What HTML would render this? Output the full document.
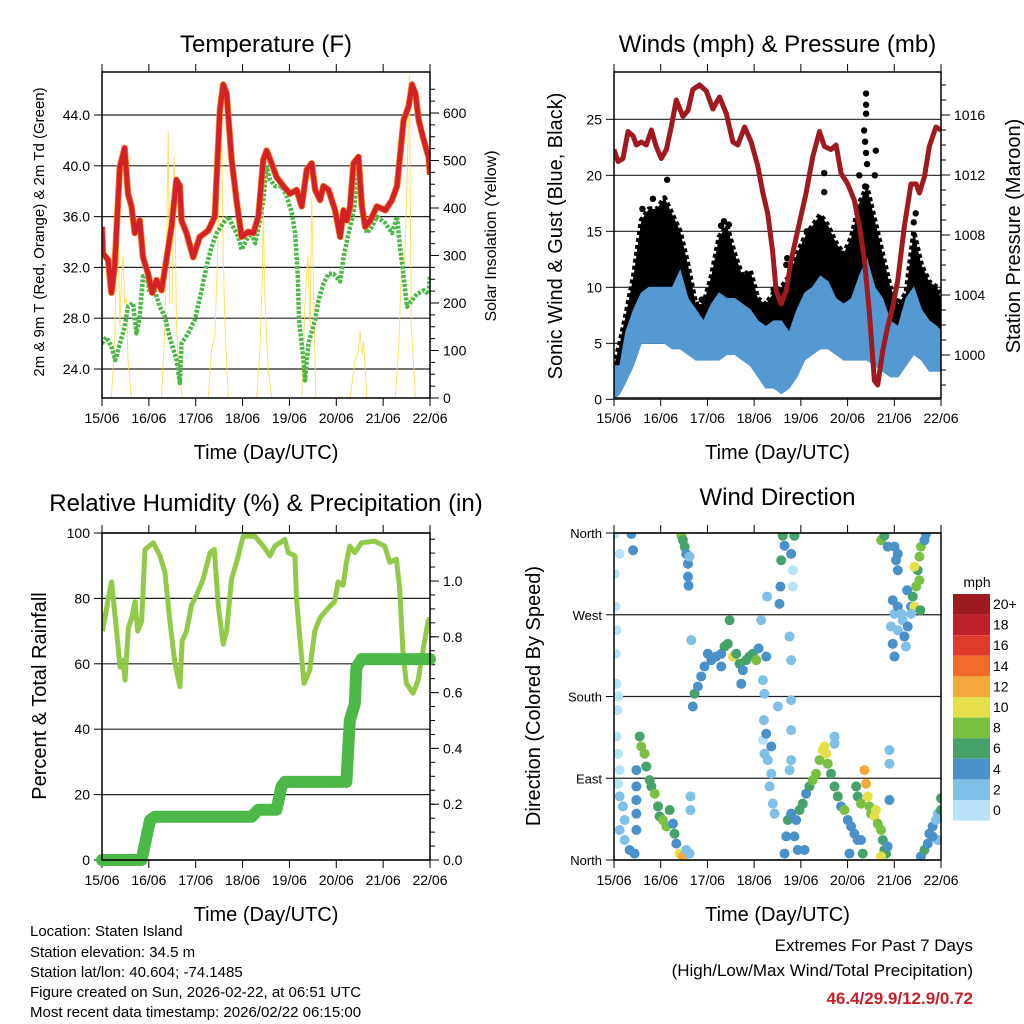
<!DOCTYPE html>
<html><head><meta charset="utf-8"><style>
body{margin:0;background:#fff}
svg{display:block;font-family:"Liberation Sans",Arial,sans-serif}
</style></head><body>
<svg id="root" width="1024" height="1024" viewBox="0 0 1024 1024">
<g id="g1"></g>
<g id="g2"></g>
<g id="g3"></g>
<g id="g4"></g>
<g font-size="15" fill="#000">
<text x="30" y="936">Location: Staten Island</text>
<text x="30" y="957">Station elevation: 34.5 m</text>
<text x="30" y="977">Station lat/lon: 40.604; -74.1485</text>
<text x="30" y="997">Figure created on Sun, 2026-02-22, at 06:51 UTC</text>
<text x="30" y="1017">Most recent data timestamp: 2026/02/22 06:15:00</text>
<text x="973" y="951" text-anchor="end" font-size="17">Extremes For Past 7 Days</text>
<text x="973" y="976" text-anchor="end" font-size="17">(High/Low/Max Wind/Total Precipitation)</text>
<text x="973" y="1004" text-anchor="end" font-size="17" font-weight="bold" fill="#c8202a">46.4/29.9/12.9/0.72</text>
</g>
</svg>
<script>
// ---------- DATA ----------
const dayLabels=["15/06","16/06","17/06","18/06","19/06","20/06","21/06","22/06"];
const tempHours=[0,0.5,3.1,4.8,6.5,9.1,11.6,13.3,15.1,16.8,19.3,21,23.6,25.7,27.9,30.5,33,35.6,38.1,39.9,40.7,43.3,46.7,50.1,54.4,57.8,60.4,62.1,63.8,66.4,68.9,71.5,74.9,77.5,80.1,82.6,84.3,86.1,89.5,92.9,96.3,99.7,102.3,104.9,107.4,109.2,111.7,113.4,116,119.4,122,123.7,125.4,127.1,128.8,131.4,133.1,134.8,137.4,140.8,145.1,148.5,151.1,152.8,154.5,157.1,158.8,160.5,162.2,164.8,167.3,168];
const tempF=[35.2,33.1,32.6,30.0,32.1,39.9,41.4,37.8,36.8,34.7,35.7,32.8,31.5,30.0,31.0,30.2,32.6,35.2,38.9,38.4,35.7,34.7,32.8,34.4,34.9,36.0,44.4,46.4,45.7,40.5,37.3,34.4,34.8,34.7,36.0,40.5,41.2,40.5,39.1,38.4,37.8,38.1,36.8,39.7,40.2,38.1,37.3,38.4,38.1,36.5,34.4,36.5,35.7,36.8,40.2,40.7,36.8,35.2,35.7,36.8,36.5,37.3,38.4,41.0,43.6,44.7,46.4,45.7,43.6,42.0,40.7,39.3];
const dewHours=[0,2.2,4.8,6.8,9.1,11.6,13.3,15.9,17.6,19.3,21,22.8,24.5,27,29.6,32.2,34.7,38.2,39.9,40.7,44.1,47.6,51,53.6,56.1,58.7,62.1,64.7,67.2,69.8,71.5,74.1,76.6,78.4,80.9,82.6,84.3,86.1,88.6,92,94.6,97.2,98.9,100.3,100.9,103.2,104,105.7,109.2,110.9,113.4,116,118.6,122,123.7,126.3,128.8,131.4,133.1,135.7,138.2,140.8,145.1,148.5,151.1,152.8,154.5,156.2,158.8,161.3,164.8,167.3,168];
const dewF=[26.0,26.5,25.8,24.7,26.0,27.3,28.9,29.2,26.8,28.1,31.3,31.3,30.0,30.2,28.9,28.1,26.5,24.7,22.9,26.0,26.8,27.9,30.2,32.1,33.6,34.7,35.5,36.0,35.2,34.4,33.4,34.2,34.7,33.9,35.7,37.3,39.9,38.9,38.4,38.4,37.6,36.3,34.7,31.3,27.9,24.7,23.1,26.0,27.9,29.4,30.7,31.5,31.5,30.9,32.8,34.7,36.3,39.7,36.3,34.7,35.2,36.0,35.5,34.7,36.0,33.4,31.3,28.9,29.4,29.9,30.2,29.9,31.3];
const solarHours=[0,4.8,6.5,7.4,8.2,9.1,9.9,10.8,11.6,12.5,13.3,15.1,30.5,32.2,33,33.9,34.7,35.9,37,38.2,39,41.1,54.4,56.1,57.8,59.2,60.4,61.2,62.1,63,64.7,79.2,80.9,82.1,82.6,83.5,84.3,85.2,86.9,102.3,104,105.4,106.6,107.4,108.3,109.5,127.1,129.7,131.4,132.2,133.1,134,135.7,150.2,151.9,153.6,155,156.2,157.4,158.4,159.1,160.5,168];
const solarW=[0,0,120,300,370,150,250,300,200,210,80,0,0,150,300,560,200,200,510,150,80,0,0,100,130,300,540,590,300,150,0,0,100,250,400,200,130,60,0,0,200,300,150,420,250,0,0,80,100,140,90,120,0,0,100,300,280,450,680,150,110,0,0];
const pressHours=[0,2.1,4.6,7.2,9.8,11.5,14,16.6,19.2,21.7,24.3,26.9,29.4,32,35.4,38,40.5,44,47.4,50.8,54.2,57.7,61.1,63.6,67.1,70.5,73.9,76.5,79,81.6,83.3,85.9,88.5,91,94.4,98.7,102.1,105.6,108.1,111.5,114.1,116.7,120.1,123.5,126.1,128.7,131.2,133.8,135.5,138.1,140.6,143.2,145.8,149.2,152.6,155.2,156.9,159.5,162,165.4,168];
const pressMb=[1013.7,1012.9,1013.1,1014.9,1014.6,1014,1014.2,1014,1015,1013.9,1013.1,1013.7,1015.2,1017,1015.9,1016.3,1017.7,1018,1017.6,1016.4,1017.2,1016.1,1014.2,1014,1015.2,1014.2,1012.6,1010.8,1009.4,1006.8,1004.3,1003.4,1004.3,1006.3,1008.3,1010.8,1013.2,1014.9,1013.9,1013.7,1014,1012.1,1011.4,1010.3,1008.6,1006.3,1002.8,998.3,998,1000.3,1001.9,1003.2,1005,1008.6,1011.4,1011.4,1010.8,1011.9,1013.9,1015.2,1015];
const windHours=[0,3,6,10,14,18,22,26,30,34,38,42,46,50,54,58,62,66,70,74,78,82,86,90,94,98,102,106,110,114,118,122,126,130,134,138,142,146,150,154,158,162,166,168];
const windLow=[0,0.5,1.5,3,5,5,5,5,4.5,4.5,4,3.5,3.5,3.5,3.5,4,4,3.5,3,2,1,1,0.5,1,2,3.5,4,4.5,4.5,4,3.5,3.5,3.5,3.5,3,2.5,2,2,3,4,3.5,2.5,2.5,2.5];
const windHigh=[3,3,6,8,9.5,10,10,10,10,11.5,9,8,7,8.5,9.5,9,9,8.5,8,7,6.5,7,7,6,8,9.5,10,11,10.5,9,8.5,9,11,12.5,10,9,7,6.5,9,10,8,7,6.5,6];
const gustHigh=[3,5,7.5,11,16,17,17,18,16.5,15,12,8.5,8.5,11,14.5,15.5,13,11,11.5,9,8.5,9.5,10,11,13,14.5,15.5,16.5,15.5,14,13,14.5,17.5,19,16,13,10,8.5,9.5,15,12,10.5,10,9];
const gustOutHours=[27.3,14.6,20,55,56.5,59,89,99,108,108,126,129.5,129.5,129.5,128.5,129,129.5,134.5,134,129,130,155,154,82,88.5,45];
const gustOutMph=[19.6,17,17.9,15.5,15.9,15.6,12.6,15,20.2,18.5,20,27.3,26.3,25.5,24,23,22,22.2,20,19,21,16.6,15.8,9.8,12,8.9];
const rhHours=[0.2,1.5,3.2,4.9,5.8,7.5,9.2,10.9,11.8,13.5,15.2,16.9,18.3,20.3,22,26.3,29.7,32.2,34.8,37.4,39.9,41.1,43.3,45.9,48.4,51.9,55.3,57.5,59.5,62.1,63.8,66.4,69.8,72.3,78.3,82.6,86,88.5,93.7,95.4,98.8,99.6,101.3,103.5,106.4,109,111.6,115.8,119.2,120.9,123.5,125.2,126.9,129.5,132.9,139.7,144.8,147.4,150.8,152.5,154.2,155.9,159.3,161.9,164.4,167,167.9];
const rhPct=[70,74,80,85,80,70,59,61,55,71,74,79,70,73,95,97,93,88,73,60,53,67,70,78,81,86,94,95,78,66,70,86,93,99,99,96,93,96,98,94,93,80,68,54,58,70,74,77,79,85,84,91,96,94,97,97.5,96,91,92,83,63,54,51,55,64,73,74];
const rainHours=[0,20.3,24.6,27.1,76.6,80,89.4,91.9,93.7,125.2,126.9,129.5,130.3,132.9,168];
const rainIn=[0,0,0.143,0.155,0.155,0.18,0.18,0.263,0.28,0.28,0.50,0.56,0.69,0.72,0.72];
const dirHours=[0.3,2.9,0.3,0.7,1.2,0.9,1.2,2.1,1.7,1.2,2.1,2.9,2.1,2.9,4.6,5.5,2.9,5.5,8,10.6,8.9,9.8,11.5,11.5,11.5,11.5,11.5,
13.2,14,15.7,16.6,18.3,19.2,20.9,22.6,23.4,25.1,26.9,28.6,30.3,31.1,32,33.7,35.4,37.1,38.8,39.3,39.3,
34.6,35.4,36.3,37.1,38,38,38.3,38.8,
40.5,41.4,43.1,44.8,46.5,48.2,50,52.5,55.1,56.8,58.5,59.4,61.1,62.8,64.5,66.2,67.9,69.6,71.3,73.1,74.3,65.4,55.1,39.7,
75.6,78.7,78.2,76.5,77.3,77,76.5,77.3,79,80.8,79.9,81.6,82.5,84.2,85,85.5,85.9,86.7,87.6,91,91.9,91.9,90.2,91,91,91,91,90.2,92.7,78.2,80.8,
87.6,88.5,89.3,91,92.7,93.6,95.3,97,98.7,100.4,102.1,103.8,105.6,107.3,109,108.1,109.8,111.5,113.3,115,116.7,118.4,120.1,121.8,123.5,125.2,121,113.3,113.3,97.9,94.4,
124.4,125.2,126.9,128.7,129.5,130.4,131.2,132.1,133.8,134.6,135.5,137.2,138.1,138.9,139.8,140.6,137.2,126.9,127.8,141.5,141.5,141.5,
137.2,138.9,140.6,144.1,145.8,144.9,145.8,143.2,144.1,145.8,147.5,142.3,143.2,144.1,145.8,148.3,149.2,150,150.9,152.6,153.5,155.2,156.9,156,154.3,156.9,157.7,159.5,160.3,154.3,150.6,157.4,152.6,
157.7,159.5,161.2,162,163.7,165.4,166.3,168,168,166.3,163.7];
const dirDeg=[359,337,315,279,253,227,194,180,165,136,117,99,84,70,59,44,33,22,11,7,359,341,99,81,66,51,33,
136,125,117,103,88,81,73,59,48,44,37,55,40,29,18,7,4,11,7,70,55,
357,352,345,337,326,312,302,334,
169,183,191,202,213,227,220,224,227,235,238,264,224,227,216,209,220,224,227,220,233,194,213,242,
264,290,224,198,183,154,132,117,110,95,81,62,51,169,282,301,330,357,346,337,301,319,246,220,176,143,110,99,357,139,125,
7,26,44,51,26,44,55,62,73,81,88,95,110,121,117,125,106,95,81,70,59,55,44,37,29,22,7,136,128,11,11,
81,70,62,99,84,70,59,51,48,55,40,33,22,11,7,15,4,22,7,121,106,66,
352,357,345,345,337,330,319,286,271,279,271,257,238,224,253,264,246,235,257,279,290,301,308,319,323,334,345,352,359,279,297,275,271,
4,11,18,29,37,44,51,55,68,22,26];
const dirSpeed=[0,0,0,1,1,0,1,0,1,0,1,0,1,2,3,3,2,3,4,5,5,4,4,4,5,5,4,
7,8,9,7,6,7,8,6,7,8,9,6,5,6,5,10,12,3,2,2,2,
8,7,6,5,4,4,4,2,
4,6,5,4,4,5,5,4,5,7,7,6,10,6,6,4,6,6,7,8,4,5,4,2,
2,2,4,2,2,2,1,2,2,3,2,3,3,3,4,4,6,6,5,5,1,1,2,2,2,2,2,2,6,5,4,
5,4,6,4,5,4,6,6,5,7,8,9,9,10,10,10,8,7,6,6,5,8,4,4,5,4,4,2,2,4,4,
7,7,8,13,12,10,9,8,10,10,9,8,7,6,6,5,10,5,6,2,2,4,
8,7,5,4,4,4,4,4,2,4,2,2,5,4,3,3,4,3,4,4,7,8,8,7,10,8,8,4,4,10,4,6,2,
4,6,4,4,4,2,2,6,6,3,4];
const cbLabels=["20+","18","16","14","12","10","8","6","4","2","0"];
const cbColors=["#9b1b1e","#c0202a","#e03a2a","#f26b2a","#f6a93b","#e5e04a","#7ac143","#45a36a","#4a90c9","#7fbfe8","#b8e2f7"];

// ---------- HELPERS ----------
const NS="http://www.w3.org/2000/svg";
function mk(parent,tag,attrs,txt){const e=document.createElementNS(NS,tag);for(const k in attrs)e.setAttribute(k,attrs[k]);if(txt!==undefined)e.textContent=txt;parent.appendChild(e);return e;}
function pathFrom(xs,ys){let d="";for(let i=0;i<xs.length;i++)d+=(i?"L":"M")+xs[i].toFixed(1)+","+ys[i].toFixed(1);return d;}
function xScale(P){return h=>P.x0+h/168*(P.x1-P.x0);}

function frame(g,P,title,xTitle){
  const t=mk(g,"text",{x:(P.x0+P.x1)/2,y:P.titleY,"text-anchor":"middle","font-size":24});t.textContent=title;
  
  
  const xt=mk(g,"text",{x:(P.x0+P.x1)/2,y:P.y1+61,"text-anchor":"middle","font-size":20},xTitle);
  
  
  const xs=xScale(P);
  dayLabels.forEach((lab,i)=>{
    const x=xs(i*24);
    mk(g,"line",{x1:x,x2:x,y1:P.y1,y2:P.y1+8,stroke:"#000","stroke-width":1});
    mk(g,"line",{x1:x,x2:x,y1:P.y0,y2:P.y0-8,stroke:"#000","stroke-width":1});
    const tl=mk(g,"text",{x:x,y:P.y1+25,"text-anchor":"middle","font-size":14},lab);
    
    
  });
}
function leftAxis(g,P,vals,labels,yf,fs,grid){
  vals.forEach((v,i)=>{const y=yf(v);
    if(grid)mk(g,"line",{x1:P.x0,x2:P.x1,y1:y,y2:y,stroke:"#222","stroke-width":1.2});
    mk(g,"line",{x1:P.x0-8,x2:P.x0,y1:y,y2:y,stroke:"#000"});
    const t=mk(g,"text",{x:P.x0-12,y:y+5,"text-anchor":"end","font-size":fs},labels[i]);
    
    
  });
}
function rightAxis(g,P,vals,labels,yf,fs,minor){
  minor.forEach(v=>{const y=yf(v);mk(g,"line",{x1:P.x1,x2:P.x1+5,y1:y,y2:y,stroke:"#000"});});
  vals.forEach((v,i)=>{const y=yf(v);
    mk(g,"line",{x1:P.x1,x2:P.x1+9,y1:y,y2:y,stroke:"#000"});
    const t=mk(g,"text",{x:P.x1+13,y:y+5,"font-size":fs},labels[i]);
    
    
  });
}
function vtitle(g,x,y,txt,fs,name){const t=mk(g,"text",{x:x,y:y,"text-anchor":"middle","font-size":fs,transform:`rotate(-90 ${x} ${y})`},txt);
  
  }
function border(g,P){const r=mk(g,"rect",{x:P.x0,y:P.y0,width:P.x1-P.x0,height:P.y1-P.y0,fill:"none",stroke:"#000","stroke-width":1.5});
  
  }
function clip(id,P){const root=document.getElementById("root");let defs=root.querySelector("defs")||mk(root,"defs",{});
  const c=mk(defs,"clipPath",{id:id});mk(c,"rect",{x:P.x0,y:P.y0,width:P.x1-P.x0,height:P.y1-P.y0});}
function range(a,b,s){const r=[];for(let v=a;v<=b+1e-9;v+=s)r.push(+v.toFixed(3));return r;}

// ---------- PANEL 1: Temperature ----------
(function(){
  const g=document.getElementById("g1");const P={x0:102,x1:430,y0:72,y1:398,titleY:52};
  const xs=xScale(P);const ty=v=>369-(v-24)*12.7;const sy=w=>398-w*0.475;
  clip("c1",P);frame(g,P,"Temperature (F)","Time (Day/UTC)");
  const tv=[24,28,32,36,40,44];leftAxis(g,P,tv,tv.map(v=>v.toFixed(1)),ty,14,true);
  rightAxis(g,P,[0,100,200,300,400,500,600],["0","100","200","300","400","500","600"],sy,14,range(0,650,25));
  const d=mk(g,"g",{"clip-path":"url(#c1)"});
  const s=mk(d,"path",{d:pathFrom(solarHours.map(xs),solarW.map(sy)),fill:"none",stroke:"#ffd83a","stroke-width":1,opacity:0.8});
  
  
  const dw=mk(d,"path",{d:pathFrom(dewHours.map(xs),dewF.map(ty)),fill:"none",stroke:"#4cb848","stroke-width":4.5,"stroke-dasharray":"3 1.5","stroke-linejoin":"round"});
  
  
  const o=mk(d,"path",{d:pathFrom(tempHours.map(xs),tempF.map(ty)),fill:"none",stroke:"#f5821f","stroke-width":6.5,"stroke-linejoin":"round"});
  
  
  const r=mk(d,"path",{d:pathFrom(tempHours.map(xs),tempF.map(ty)),fill:"none",stroke:"#d42027","stroke-width":5,"stroke-linejoin":"round"});
  
  
  border(g,P);
  vtitle(g,44,232,"2m & 9m T (Red, Orange) & 2m Td (Green)",15,"y-axis-title");
  vtitle(g,496,236,"Solar Insolation (Yellow)",16,"right-axis-title");
})();

// ---------- PANEL 2: Winds ----------
(function(){
  const g=document.getElementById("g2");const P={x0:614,x1:941,y0:72,y1:398,titleY:52};
  const xs=xScale(P);const wy=m=>399.3-m*11.2;const py=mb=>115+(1016-mb)*15;
  clip("c2",P);frame(g,P,"Winds (mph) & Pressure (mb)","Time (Day/UTC)");
  const wv=[0,5,10,15,20,25];leftAxis(g,P,wv,wv.map(String),wy,14,true);
  rightAxis(g,P,[1000,1004,1008,1012,1016],["1000","1004","1008","1012","1016"],py,14,range(998,1018,1));
  const d=mk(g,"g",{"clip-path":"url(#c2)"});
  const xsH=windHours.map(xs);
  const gp=pathFrom(xsH.concat(xsH.slice().reverse()),windHigh.map(wy).concat(gustHigh.map(wy).reverse()))+"Z";
  const gb=mk(d,"path",{d:gp,fill:"#000",stroke:"#000","stroke-width":5,"stroke-dasharray":"4 3","stroke-linejoin":"round"});
  
  
  gustOutHours.forEach((h,i)=>{const c=mk(d,"circle",{cx:xs(h),cy:wy(gustOutMph[i]),r:3.2,fill:"#000"});
    
    });
  const bp=pathFrom(xsH.concat(xsH.slice().reverse()),windHigh.map(wy).concat(windLow.map(wy).reverse()))+"Z";
  const bb=mk(d,"path",{d:bp,fill:"#5499d1","fill-opacity":1,stroke:"#5499d1","stroke-width":1});
  
  
  const pl=mk(d,"path",{d:pathFrom(pressHours.map(xs),pressMb.map(py)),fill:"none",stroke:"#a0191e","stroke-width":5,"stroke-linejoin":"round"});
  
  
  border(g,P);
  vtitle(g,562,236,"Sonic Wind & Gust (Blue, Black)",20,"y-axis-title");
  vtitle(g,1020,236,"Station Pressure (Maroon)",20,"right-axis-title");
})();

// ---------- PANEL 3: RH & Precip ----------
(function(){
  const g=document.getElementById("g3");const P={x0:102,x1:430,y0:533,y1:860,titleY:511};
  const xs=xScale(P);const ry=p=>860-p*3.27;const qy=v=>860-v*279;
  clip("c3",P);frame(g,P,"Relative Humidity (%) & Precipitation (in)","Time (Day/UTC)");
  const rv=[0,20,40,60,80,100];leftAxis(g,P,rv,rv.map(String),ry,14,true);
  rightAxis(g,P,[0,0.2,0.4,0.6,0.8,1.0],["0.0","0.2","0.4","0.6","0.8","1.0"],qy,14,range(0,1.15,0.05));
  const d=mk(g,"g",{"clip-path":"url(#c3)"});
  const rh=mk(d,"path",{d:pathFrom(rhHours.map(xs),rhPct.map(ry)),fill:"none",stroke:"#8dc63f","stroke-width":5,"stroke-linejoin":"round",opacity:0.95});
  
  
  const pr=mk(g,"path",{d:pathFrom(rainHours.map(xs),rainIn.map(qy)),fill:"none",stroke:"#4cb848","stroke-width":12,"stroke-linejoin":"round","stroke-linecap":"round"});
  
  
  border(g,P);
  vtitle(g,46,696,"Percent & Total Rainfall",20,"y-axis-title");
})();

// ---------- PANEL 4: Wind Direction ----------
(function(){
  const g=document.getElementById("g4");const P={x0:614,x1:941,y0:533,y1:860,titleY:505};
  const xs=xScale(P);const dy=deg=>860-deg/360*327;
  clip("c4",P);frame(g,P,"Wind Direction","Time (Day/UTC)");
  leftAxis(g,P,[0,90,180,270,360],["North","East","South","West","North"],dy,13,true);
  const d=mk(g,"g",{"clip-path":"url(#c4)"});
  dirHours.forEach((h,i)=>{
    const s=dirSpeed[i];const idx=Math.max(0,Math.min(10,10-Math.floor(s/2)));
    const c=mk(d,"circle",{cx:xs(h),cy:dy(dirDeg[i]),r:5,fill:cbColors[idx]});
    
    
  });
  border(g,P);
  vtitle(g,540,696,"Direction (Colored By Speed)",20,"y-axis-title");
  const cb=mk(g,"g",{});
  
  
  mk(cb,"text",{x:977,y:587,"text-anchor":"middle","font-size":14},"mph");
  cbLabels.forEach((lab,i)=>{const y=594+i*20.6;
    mk(cb,"rect",{x:953,y:y,width:37,height:20.6,fill:cbColors[i]});
    const t=mk(cb,"text",{x:993,y:y+15,"font-size":14},lab);
    
    
  });
})();
</script>
</body></html>
